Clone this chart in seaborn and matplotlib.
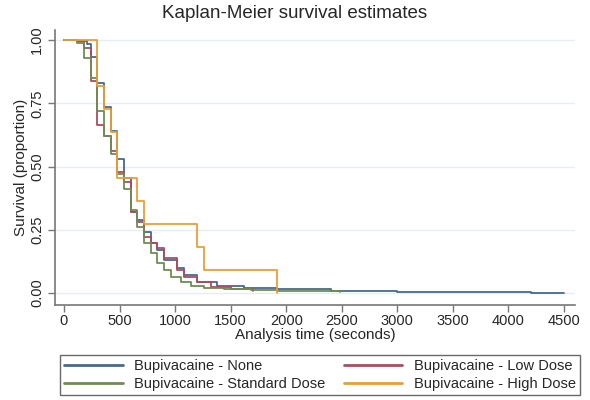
import numpy as np
import pandas as pd
import matplotlib
matplotlib.use("Agg")
import matplotlib.pyplot as plt
import seaborn as sns

# ---- data (time in seconds, survival proportion) ----
groups = ["Bupivacaine - None", "Bupivacaine - Low Dose",
          "Bupivacaine - Standard Dose", "Bupivacaine - High Dose"]

none_t = [0, 120, 210, 240, 300, 360, 420, 480, 540, 600, 660, 720, 780, 840,
          900, 1020, 1080, 1200, 1380, 1620, 1920, 2400, 3000, 3600, 4200, 4500]
none_s = [1.0, 0.995, 0.985, 0.935, 0.83, 0.735, 0.64, 0.53, 0.455, 0.32, 0.29,
          0.24, 0.20, 0.17, 0.13, 0.10, 0.07, 0.045, 0.03, 0.022, 0.015, 0.009,
          0.006, 0.004, 0.002, 0.0]

low_t = [0, 120, 180, 240, 300, 360, 420, 480, 540, 600, 660, 720, 780, 840,
         900, 1020, 1080, 1200, 1320, 1500, 1700]
low_s = [1.0, 0.995, 0.97, 0.84, 0.665, 0.62, 0.56, 0.48, 0.44, 0.32, 0.28,
         0.22, 0.20, 0.18, 0.14, 0.09, 0.063, 0.045, 0.025, 0.017, 0.01]

std_t = [0, 120, 180, 240, 300, 360, 420, 480, 540, 600, 660, 720, 780, 840,
         900, 960, 1050, 1140, 1260, 1440, 1680, 1920, 2160, 2480]
std_s = [1.0, 0.99, 0.93, 0.85, 0.72, 0.62, 0.55, 0.47, 0.41, 0.33, 0.26, 0.20,
         0.16, 0.12, 0.09, 0.063, 0.045, 0.03, 0.022, 0.016, 0.012, 0.009,
         0.007, 0.005]

high_t = [0, 300, 360, 420, 480, 660, 720, 1200, 1260, 1920]
high_s = [1.0, 0.818, 0.727, 0.636, 0.455, 0.364, 0.273, 0.182, 0.091, 0.0]

x_ticks = [0, 500, 1000, 1500, 2000, 2500, 3000, 3500, 4000, 4500]
y_ticks = [0.0, 0.25, 0.5, 0.75, 1.0]
y_ticklabels = ["0.00", "0.25", "0.50", "0.75", "1.00"]

colors = ["#46698f", "#ab4d60", "#6f8c52", "#e99e35"]

# build frame
rows = []
for g, t, s in zip(groups, [none_t, low_t, std_t, high_t],
                   [none_s, low_s, std_s, high_s]):
    for ti, si in zip(t, s):
        rows.append((g, ti, si))
df = pd.DataFrame(rows, columns=["group", "time", "surv"])

sns.set_theme(style="white")
plt.rcParams["font.family"] = ["Liberation Sans", "DejaVu Sans"]

fig = plt.figure(figsize=(5.9, 4.0), dpi=100)
ax = fig.add_axes([55/590, 1 - 305/400, 520/590, 275/400])

for yt in y_ticks:
    ax.axhline(yt, color="#e6eef1", lw=1.0, zorder=0)

sns.lineplot(data=df, x="time", y="surv", hue="group", hue_order=groups,
             palette=colors, drawstyle="steps-post", estimator=None,
             linewidth=1.3, ax=ax, legend=True)

ax.set_xlim(-81, 4599)
ax.set_ylim(-0.047, 1.04)
ax.set_xticks(x_ticks)
ax.set_xticklabels([str(v) for v in x_ticks], fontsize=10.5)
ax.set_yticks(y_ticks)
ax.set_yticklabels(y_ticklabels, fontsize=10.5, rotation=90, va="center")
ax.tick_params(axis="x", direction="out", length=5, width=1,
               color="#777777", pad=1.5, bottom=True)
ax.tick_params(axis="y", direction="out", length=5, width=1,
               color="#777777", pad=3, left=True)

for side in ["top", "right"]:
    ax.spines[side].set_visible(False)
for side in ["left", "bottom"]:
    ax.spines[side].set_color("#777777")
    ax.spines[side].set_linewidth(1.2)

ax.set_xlabel("Analysis time (seconds)", fontsize=11, labelpad=0)
ax.set_ylabel("Survival (proportion)", fontsize=11, labelpad=1)
fig.text(0.5, 1 - 14/400, "Kaplan-Meier survival estimates", ha="center",
         va="center", fontsize=13.5)

handles, labels = ax.get_legend_handles_labels()
ax.get_legend().remove()
order = [0, 2, 1, 3]
h = [handles[i] for i in order]
l = [labels[i] for i in order]
for hh in h:
    hh.set_linewidth(2)
leg = fig.legend(h, l, ncol=2, loc="lower left", mode="expand",
                 bbox_to_anchor=(60/590, 1 - 395/400, 520/590, 47/400),
                 fontsize=10.5, handlelength=4.0, frameon=True, fancybox=False,
                 borderpad=0.3, labelspacing=0.25, columnspacing=1.0,
                 handletextpad=0.8, borderaxespad=0)
leg.get_frame().set_edgecolor("#444444")
leg.get_frame().set_linewidth(1.0)

fig.savefig("out.png", dpi=100)
